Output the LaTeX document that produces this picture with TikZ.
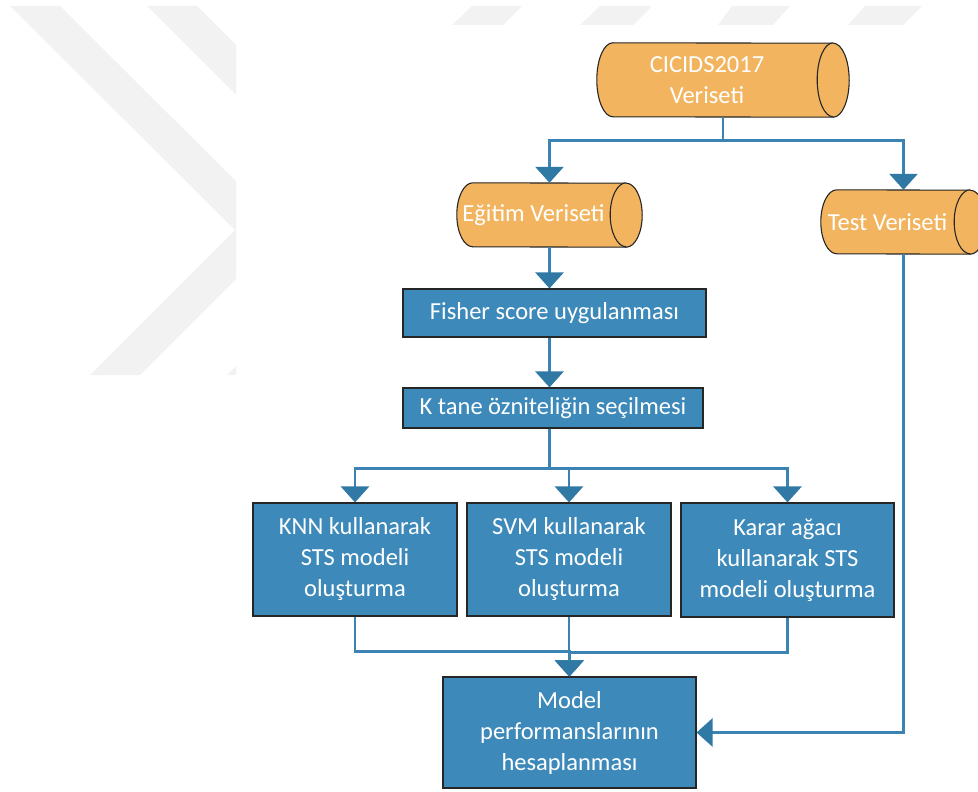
\documentclass[tikz,border=0pt]{standalone}
\usepackage{fontspec}
\setmainfont{Carlito}
\usetikzlibrary{arrows.meta}

\definecolor{dataor}{HTML}{F2B45F}
\definecolor{procbl}{HTML}{3D89BA}
\definecolor{linebl}{HTML}{3A83B2}
\definecolor{tipbl}{HTML}{2F79A4}
\definecolor{markgray}{HTML}{F2F2F2}

\pgfdeclarelayer{bg}
\pgfsetlayers{bg,main}

% horizontal "stored data" cylinder around a text node: #1 node name, #2 half height
\newcommand\datacyl[2]{%
  \filldraw[cylline] ([xshift=16pt]#1.north west)
    arc[start angle=90,end angle=270,x radius=16pt,y radius=#2pt]
    -- ([xshift=16pt]#1.south east)
    arc[start angle=-90,end angle=90,x radius=16pt,y radius=#2pt] -- cycle;
  \draw[cylline] ([xshift=16pt]#1.north east)
    arc[start angle=90,end angle=270,x radius=16pt,y radius=#2pt];
}

\tikzset{
  txt/.style={font=\fontsize{24.5}{31}\selectfont, text=white, align=center, inner sep=0pt},
  datanode/.style={txt},
  cylline/.style={draw=black!85, line width=1.1pt, fill=dataor},
  proc/.style={txt, draw=black!85, line width=1.1pt, fill=procbl},
  link/.style={draw=linebl, line width=2.8pt},
  conn/.style={link, -{Triangle[width=28pt,length=16pt,color=tipbl]}},
}

\begin{document}
\begin{tikzpicture}[x=1pt,y=1pt]
\useasboundingbox (0,0) rectangle (978,-792);

% faint background mark
\begin{scope}
  \clip (0,-6) rectangle (236,-375);
  \fill[markgray] (10,-6) -- (60,-6) -- (285,-230) -- (140,-375) -- (90,-375) -- (235,-230) -- cycle;
  \fill[markgray] (147,-6) -- (197,-6) -- (422,-230) -- (277,-375) -- (227,-375) -- (372,-230) -- cycle;
\end{scope}
\fill[markgray] (472,-6) -- (522,-6) -- (503,-25) -- (452,-25) -- cycle;
\fill[markgray] (600,-6) -- (652,-6) -- (633,-25) -- (580,-25) -- cycle;
\fill[markgray] (732,-6) -- (790,-6) -- (773,-25) -- (718,-25) -- cycle;
\fill[markgray] (865,-6) -- (922,-6) -- (903,-25) -- (848,-25) -- cycle;

% data nodes
\node[datanode, minimum width=220pt, minimum height=74pt] (cic) at (707,-80) {CICIDS2017\\Veriseti};
\node[datanode, minimum width=153pt, minimum height=64pt] (egit) at (533.5,-215) {Eğitim Veriseti};
\node[datanode, minimum width=133pt, minimum height=64pt] (test) at (887.5,-222) {Test Veriseti};

\begin{pgfonlayer}{bg}
  \datacyl{cic}{37}
  \datacyl{egit}{32}
  \datacyl{test}{32}
\end{pgfonlayer}

% process nodes
\node[proc, minimum width=303pt, minimum height=48pt] (fisher) at (554.5,-313) {Fisher score uygulanması};
\node[proc, minimum width=300pt, minimum height=40pt] (kbox) at (553,-408) {K tane özniteliğin seçilmesi};
\node[proc, minimum width=204pt, minimum height=113pt] (knn) at (355,-559.5) {KNN kullanarak\\STS modeli\\oluşturma};
\node[proc, minimum width=204pt, minimum height=113pt] (svm) at (569,-559.5) {SVM kullanarak\\STS modeli\\oluşturma};
\node[proc, minimum width=213pt, minimum height=114pt] (karar) at (787.5,-560) {Karar ağacı\\kullanarak STS\\modeli oluşturma};
\node[proc, minimum width=253pt, minimum height=111pt] (model) at (569.5,-732.5) {Model\\performanslarının\\hesaplanması};

\coordinate (spine) at ([xshift=16pt]egit.south);

% connectors
\draw[conn] ([xshift=16pt]cic.south) -- ++(0,-23) -| ([xshift=16pt]egit.north);
\draw[conn] ([xshift=16pt]cic.south) -- ++(0,-23) -| ([xshift=16pt]test.north);
\draw[conn] (spine) -- (spine |- fisher.north);
\draw[conn] (spine |- fisher.south) -- (spine |- kbox.north);
\draw[conn] (spine |- kbox.south) -- ++(0,-40) -| (knn.north);
\draw[conn] (spine |- kbox.south) -- ++(0,-40) -| (svm.north);
\draw[conn] (spine |- kbox.south) -- ++(0,-40) -| (karar.north);
\draw[conn] (knn.south) -- ++(0,-35) -| (model.north);
\draw[conn] (karar.south) -- ++(0,-35) -| (model.north);
\draw[conn] (svm.south) -- (svm.south |- model.north);
\draw[conn] ([xshift=16pt]test.south) |- (model.east);
\end{tikzpicture}
\end{document}
